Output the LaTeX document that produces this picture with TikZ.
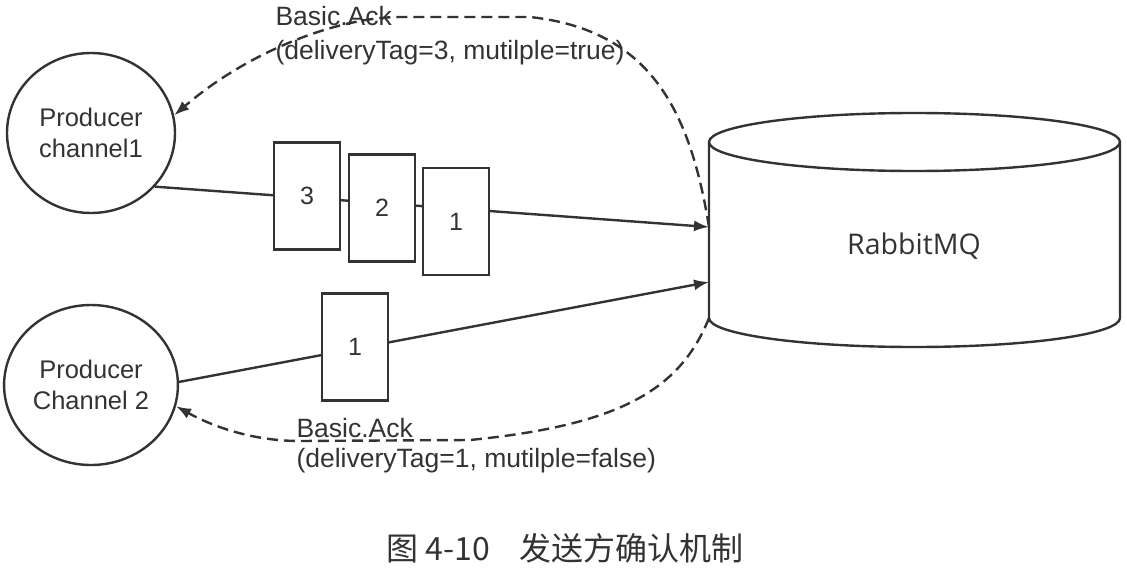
\documentclass[tikz,border=0pt]{standalone}
\usepackage{fontspec}
\setmainfont{Liberation Sans}
\newfontfamily\cjkfont{Noto Sans CJK SC}
\newfontfamily\mqfont{Open Sans}
\usetikzlibrary{arrows.meta,shapes.geometric}

\begin{document}
\begin{tikzpicture}[x=1pt,y=-1pt,line width=2.4pt,color=black!80,
  producer/.style={ellipse,draw,minimum width=168pt,minimum height=160pt,align=center,font=\fontsize{25.5}{31}\selectfont},
  msgbox/.style={rectangle,draw,fill=white,minimum width=66pt,minimum height=107pt,font=\fontsize{25}{30}\selectfont},
  send/.style={-{Latex[length=15pt,width=11pt]}},
  ack/.style={dash pattern=on 11pt off 6pt,-{Latex[length=15pt,width=11pt]}},
  acktext/.style={anchor=west,align=left,font=\fontsize{26.5}{30}\selectfont}]
\useasboundingbox (0,0) rectangle (1127,570);
% producers
\node[producer] (p1) at (91,133) {Producer\\channel1};
\node[producer] (p2) at (91,385) {Producer\\Channel 2};
% broker
\draw (709,142) -- (709,318) arc[start angle=180,end angle=360,x radius=205.5pt,y radius=29pt]
  -- (1120,142) arc[start angle=0,end angle=360,x radius=205.5pt,y radius=29pt];
\node[font=\mqfont\fontsize{28.5}{32}\selectfont] (mq) at (914,246) {RabbitMQ};
\coordinate (mqin1) at (709,227);
\coordinate (mqin2) at (709,282);
\coordinate (mqack2) at (709,318);
% publish
\draw[send] (p1.-40) -- (mqin1);
\draw[send] (p2.2) -- (mqin2);
\node[msgbox] (m3) at (307,196) {3};
\node[msgbox] (m2) at (382,208) {2};
\node[msgbox] (m1) at (456,221.5) {1};
\node[msgbox] (n1) at (355,347) {1};
% confirms
\draw[ack] (mqin1) .. controls (690,110) and (650,30) .. (530,17) -- (400,17)
  .. controls (340,17) and (250,50) .. (p1.12);
\draw[ack] (mqack2) .. controls (680,390) and (620,425) .. (470,440) -- (300,441)
  .. controls (250,441) and (210,425) .. (p2.-14);
\node[acktext] (ack1) at (271,36) {Basic.Ack\\[4pt](deliveryTag=3, mutilple=true)};
\node[acktext] (ack2) at (292,446) {Basic.Ack\\(deliveryTag=1, mutilple=false)};
\node[font=\cjkfont\fontsize{32}{36}\selectfont] (caption) at (565,548) {图 4-10\hspace{30pt}发送方确认机制};
\end{tikzpicture}
\end{document}
